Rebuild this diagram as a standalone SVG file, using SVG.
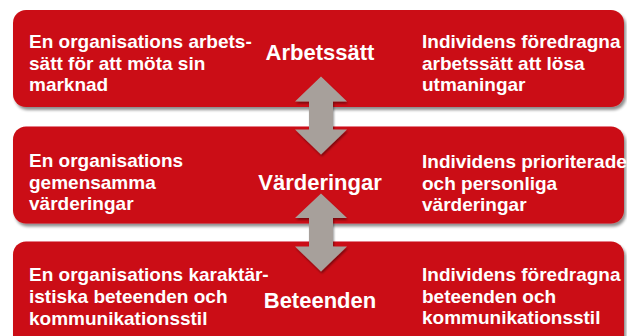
<svg xmlns="http://www.w3.org/2000/svg" width="627" height="336" viewBox="0 0 627 336">
<defs>
<filter id="sh" x="-5%" y="-10%" width="110%" height="130%">
<feGaussianBlur in="SourceAlpha" stdDeviation="1.6"/>
<feOffset dx="1.5" dy="2.5" result="b"/>
<feComponentTransfer><feFuncA type="linear" slope="0.45"/></feComponentTransfer>
<feMerge><feMergeNode/><feMergeNode in="SourceGraphic"/></feMerge>
</filter>
<filter id="ash" x="-20%" y="-10%" width="140%" height="130%">
<feGaussianBlur in="SourceAlpha" stdDeviation="1.2"/>
<feOffset dx="1" dy="1.5" result="b"/>
<feComponentTransfer><feFuncA type="linear" slope="0.4"/></feComponentTransfer>
<feMerge><feMergeNode/><feMergeNode in="SourceGraphic"/></feMerge>
</filter>
</defs>
<style>
.box{fill:#cb0c13;filter:url(#sh)}
.t{font-family:"Liberation Sans",Arial,sans-serif;font-weight:bold;fill:#ffffff;font-size:19px}
.c{font-family:"Liberation Sans",Arial,sans-serif;font-weight:bold;fill:#ffffff;font-size:22px;text-anchor:middle}
.arr{fill:#a7a09b;filter:url(#ash)}
</style>
<rect width="627" height="336" fill="#ffffff"/>
<g id="node-arbetssatt">
<rect class="box" x="13" y="10" width="611" height="97" rx="13"/>
<text class="t" x="29" y="48">En organisations arbets-</text>
<text class="t" x="29" y="69.5">sätt för att möta sin</text>
<text class="t" x="29" y="91">marknad</text>
<text class="c" x="320" y="60">Arbetssätt</text>
<text class="t" x="422" y="48">Individens föredragna</text>
<text class="t" x="422" y="69.5">arbetssätt att lösa</text>
<text class="t" x="422" y="91">utmaningar</text>
</g>
<g id="node-varderingar">
<rect class="box" x="13" y="126.5" width="611" height="97" rx="13"/>
<text class="t" x="29" y="167">En organisations</text>
<text class="t" x="29" y="188.5">gemensamma</text>
<text class="t" x="29" y="210">värderingar</text>
<text class="c" x="320" y="190">Värderingar</text>
<text class="t" x="422" y="168">Individens prioriterade</text>
<text class="t" x="422" y="189.5">och personliga</text>
<text class="t" x="422" y="211">värderingar</text>
</g>
<g id="node-beteenden">
<rect class="box" x="13" y="241.5" width="611" height="110" rx="13"/>
<text class="t" x="29" y="281">En organisations karaktär-</text>
<text class="t" x="29" y="303">istiska beteenden och</text>
<text class="t" x="29" y="325">kommunikationsstil</text>
<text class="c" x="320" y="308">Beteenden</text>
<text class="t" x="422" y="281">Individens föredragna</text>
<text class="t" x="422" y="302.5">beteenden och</text>
<text class="t" x="422" y="324">kommunikationsstil</text>
</g>
<g id="connectors">
<path class="arr" d="M321 76.5 L347 101.5 L333 101.5 L333 129.5 L347 129.5 L321 154.5 L295 129.5 L309 129.5 L309 101.5 L295 101.5 Z"/>
<path class="arr" d="M321 193.5 L347 218 L333 218 L333 246.5 L347 246.5 L321 271.5 L295 246.5 L309 246.5 L309 218 L295 218 Z"/>
</g>
</svg>
